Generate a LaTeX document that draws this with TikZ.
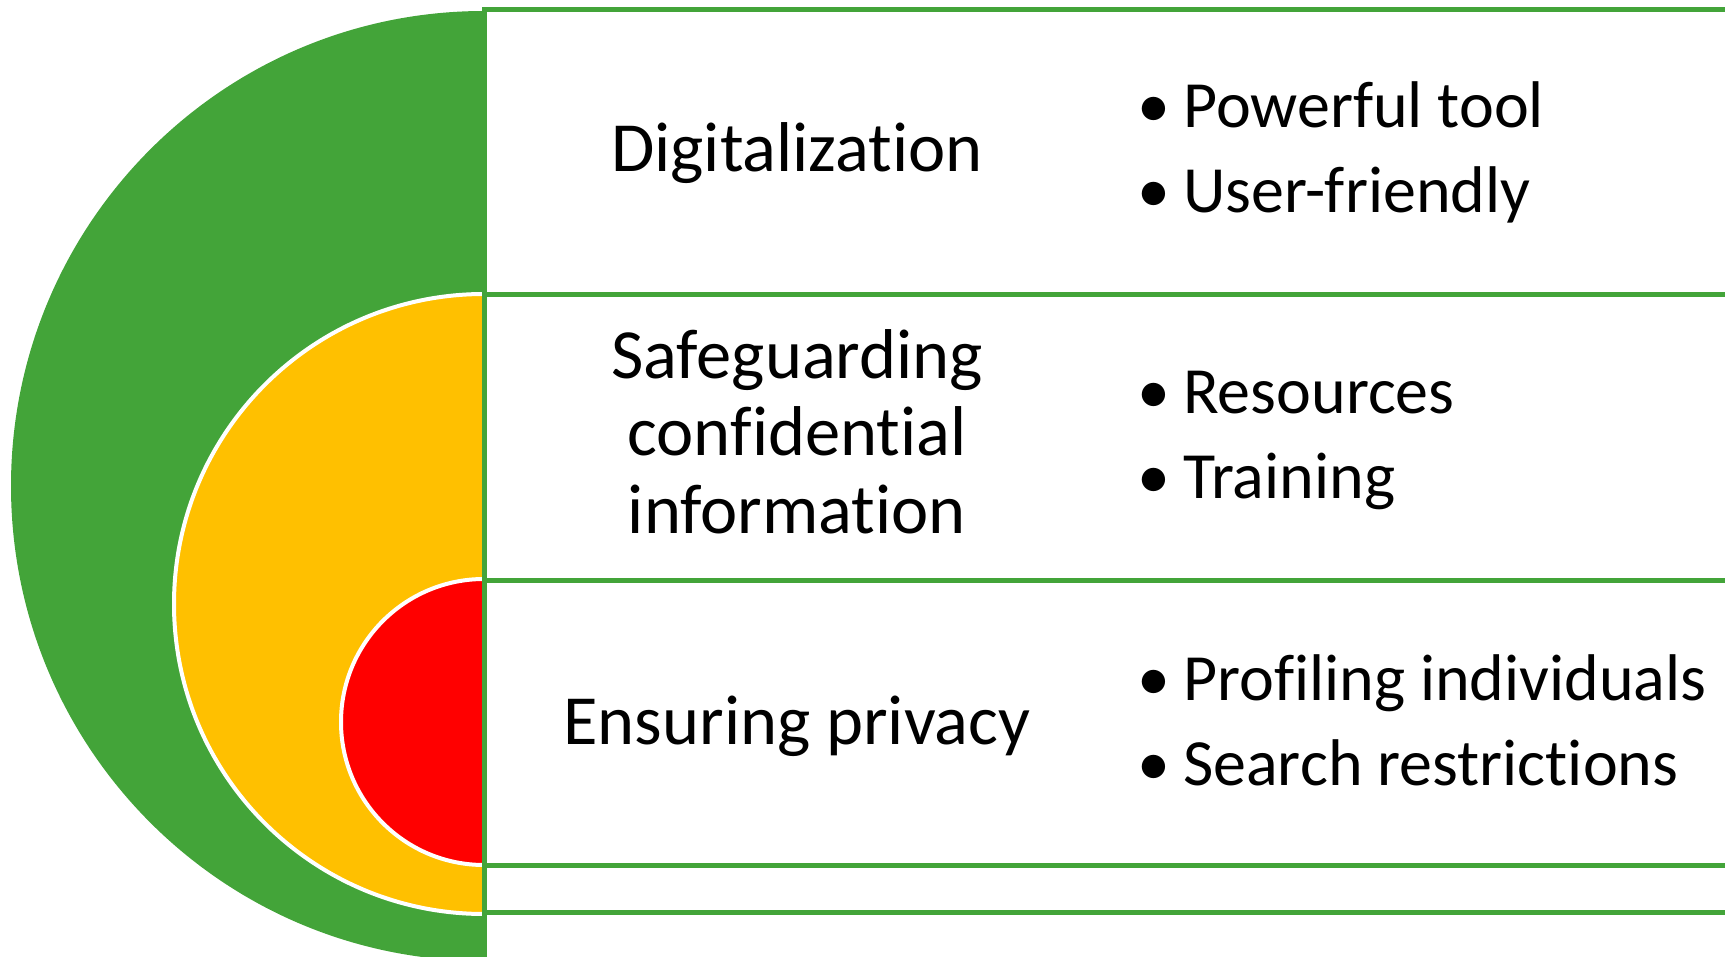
\documentclass[tikz,border=0pt]{standalone}
\usepackage{fontspec}
\setmainfont{Carlito}[RawFeature=-liga]
\definecolor{ringgreen}{RGB}{67,164,57}
\definecolor{ringyellow}{RGB}{255,192,0}
\definecolor{ringred}{RGB}{255,0,0}
\tikzset{
  ring/.style={draw=white, line width=4pt},
  band/.style={draw=ringgreen, fill=white, line width=5pt},
  title/.style={font=\fontsize{70.5}{77.5}\selectfont, align=center, inner sep=0pt, anchor=base},
  item/.style={font=\fontsize{66}{84}\selectfont, anchor=base west, inner sep=0pt},
}
\begin{document}
\begin{tikzpicture}[x=1pt, y=-1pt]
    \useasboundingbox (0,0) rectangle (1725,957);
    \coordinate (o1) at (484,486);
    \coordinate (o2) at (484,604);
    \coordinate (o3) at (484,722);

    \fill[ringgreen] (o1) ellipse [x radius=473, y radius=475];
    \filldraw[ring, fill=ringyellow] (o2) circle (310);
    \filldraw[ring, fill=ringred] (o3) circle (143);

    % the bands cover the right halves
    \draw[band] (484,10) rectangle (1770,962);
    \draw[band] (484,295) rectangle (1770,912);
    \draw[band] (484,580) rectangle (1770,865);

    \node[title] (dig) at (797,172) {Digitalization};
    \node[title] (safe) at (797,533) {Safeguarding\\confidential\\information};
    \node[title] (priv) at (797,744) {Ensuring privacy};

    \foreach \n/\y/\t in {1/128/Powerful tool, 2/213/User-friendly, 3/414/Resources,
                          4/498/Training, 5/700/Profiling individuals, 6/785/Search restrictions}
        \node[item] (item\n) at (1137,\y) {\makebox[46pt][l]{\textbullet}\t};
\end{tikzpicture}
\end{document}
